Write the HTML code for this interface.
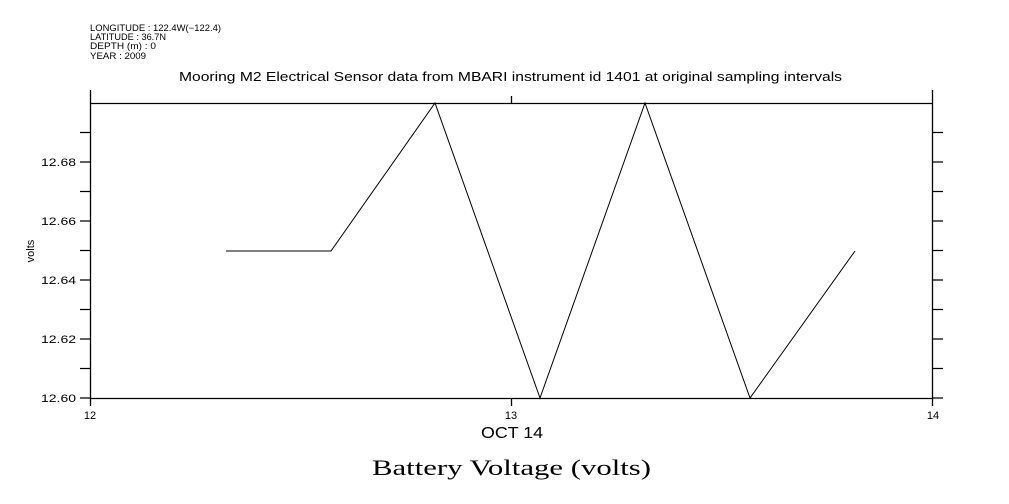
<!DOCTYPE html>
<html><head><style>body{margin:0;background:#fff}svg{display:block}</style></head><body>
<svg width="1009" height="504" xmlns="http://www.w3.org/2000/svg" font-family="Liberation Sans, sans-serif" fill="#000">
<g font-size="9">
<text x="90" y="31" textLength="131" lengthAdjust="spacingAndGlyphs">LONGITUDE : 122.4W(−122.4)</text>
<text x="90" y="40" textLength="76" lengthAdjust="spacingAndGlyphs">LATITUDE : 36.7N</text>
<text x="90" y="49" textLength="66" lengthAdjust="spacingAndGlyphs">DEPTH (m) : 0</text>
<text x="90" y="59" textLength="56" lengthAdjust="spacingAndGlyphs">YEAR : 2009</text>
</g>
<text x="179" y="81" font-size="13" textLength="663" lengthAdjust="spacingAndGlyphs">Mooring M2 Electrical Sensor data from MBARI instrument id 1401 at original sampling intervals</text>
<g stroke="#000" stroke-width="1.3" fill="none">
<line x1="90" y1="103.5" x2="933" y2="103.5"/>
<line x1="90" y1="398.5" x2="933" y2="398.5"/>
<line x1="90.5" y1="90" x2="90.5" y2="406"/>
<line x1="932.5" y1="90" x2="932.5" y2="406"/>
<line x1="511.5" y1="96" x2="511.5" y2="103"/>
<line x1="511.5" y1="398" x2="511.5" y2="406"/>
<path d="M80 132.5H90M80 162H90M80 191.5H90M80 221H90M80 250.5H90M80 280H90M80 309.5H90M80 339H90M80 368.5H90M80 398H90"/>
<path d="M933 132.5H943M933 162H943M933 191.5H943M933 221H943M933 250.5H943M933 280H943M933 309.5H943M933 339H943M933 368.5H943M933 398H943"/>
<polyline points="226,251 331,251 435,103 540,398 645,103 750,398 855,251" stroke-width="1"/>
</g>
<g font-size="11">
<text x="41" y="166" textLength="35" lengthAdjust="spacingAndGlyphs">12.68</text>
<text x="41" y="225" textLength="35" lengthAdjust="spacingAndGlyphs">12.66</text>
<text x="41" y="284" textLength="35" lengthAdjust="spacingAndGlyphs">12.64</text>
<text x="41" y="343" textLength="35" lengthAdjust="spacingAndGlyphs">12.62</text>
<text x="41" y="402" textLength="35" lengthAdjust="spacingAndGlyphs">12.60</text>
</g>
<g font-size="11" text-anchor="middle">
<text x="90" y="419">12</text>
<text x="511" y="419">13</text>
<text x="933" y="419">14</text>
</g>
<text x="34" y="251" font-size="11" text-anchor="middle" transform="rotate(-90 34 251)">volts</text>
<text x="481" y="438" font-size="16" textLength="62" lengthAdjust="spacingAndGlyphs">OCT 14</text>
<text x="372" y="475" font-size="22" font-family="Liberation Serif, serif" textLength="279" lengthAdjust="spacingAndGlyphs">Battery Voltage (volts)</text>
</svg>
</body></html>
